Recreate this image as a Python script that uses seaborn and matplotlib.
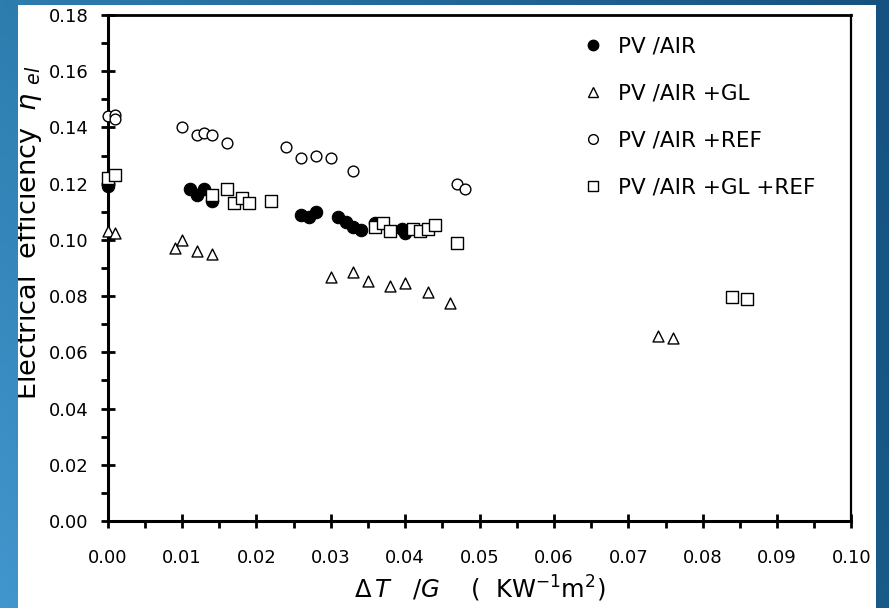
import numpy as np
import matplotlib
matplotlib.use("Agg")
import matplotlib.pyplot as plt
from matplotlib.lines import Line2D
from matplotlib.patches import Rectangle
from matplotlib.ticker import MultipleLocator, FormatStrFormatter
import seaborn as sns

# 数据
pv_air_x = [0.000, 0.011, 0.012, 0.013, 0.014, 0.026, 0.027, 0.028, 0.031, 0.032,
            0.033, 0.034, 0.036, 0.0396, 0.040]
pv_air_y = [0.119, 0.118, 0.116, 0.118, 0.114, 0.109, 0.108, 0.110, 0.108, 0.1065,
            0.1047, 0.1035, 0.106, 0.104, 0.1023]

gl_x = [0.000, 0.001, 0.009, 0.010, 0.012, 0.014, 0.030, 0.033, 0.035, 0.038,
        0.040, 0.043, 0.046, 0.074, 0.076]
gl_y = [0.103, 0.1025, 0.097, 0.100, 0.096, 0.095, 0.0867, 0.0887, 0.0855, 0.0837,
        0.0846, 0.0816, 0.0777, 0.0658, 0.065]

ref_x = [0.000, 0.001, 0.001, 0.010, 0.012, 0.013, 0.014, 0.016, 0.024, 0.026,
         0.028, 0.030, 0.033, 0.047, 0.048]
ref_y = [0.144, 0.1445, 0.143, 0.140, 0.1373, 0.138, 0.1372, 0.1344, 0.133, 0.129,
         0.130, 0.129, 0.1246, 0.120, 0.118]

glref_x = [0.000, 0.001, 0.014, 0.016, 0.017, 0.018, 0.019, 0.022, 0.036, 0.037,
           0.038, 0.041, 0.042, 0.043, 0.044, 0.047, 0.084, 0.086]
glref_y = [0.122, 0.123, 0.116, 0.118, 0.113, 0.115, 0.113, 0.114, 0.1047, 0.106,
           0.1032, 0.1038, 0.103, 0.104, 0.1053, 0.099, 0.0798, 0.0789]

labels = ['PV /AIR', 'PV /AIR +GL', 'PV /AIR +REF', 'PV /AIR +GL +REF']

sns.set_style('white')
plt.rcParams['font.family'] = ['DejaVu Sans']
plt.rcParams['mathtext.fontset'] = 'dejavusans'
plt.rcParams['text.color'] = 'black'
plt.rcParams['axes.labelcolor'] = 'black'
plt.rcParams['xtick.color'] = 'black'
plt.rcParams['ytick.color'] = 'black'

fig = plt.figure(figsize=(8.89, 6.08), dpi=100)

# 蓝色渐变背景
h, w = 60, 90
yy, xx = np.mgrid[0:1:h * 1j, 0:1:w * 1j]  # yy: 0 at top
tl = np.array([45, 125, 175]); tr = np.array([22, 82, 128])
bl = np.array([65, 150, 205]); br = np.array([25, 90, 135])
grad = ((1 - xx)[..., None] * ((1 - yy)[..., None] * tl + yy[..., None] * bl)
        + xx[..., None] * ((1 - yy)[..., None] * tr + yy[..., None] * br)) / 255

bg = fig.add_axes([0, 0, 1, 1], zorder=-10)
bg.imshow(grad, aspect='auto', extent=[0, 1, 0, 1], interpolation='bilinear')
bg.set_axis_off()
fig.patches.append(Rectangle((18 / 889, 0), (876 - 18) / 889, (608 - 5) / 608,
                             transform=fig.transFigure, facecolor='white',
                             edgecolor='none', zorder=-5))

ax = fig.add_axes([107.7 / 889, 87 / 608, (851.5 - 107.7) / 889, (521 - 15) / 608])
ax.set_facecolor('white')

sns.scatterplot(x=ref_x, y=ref_y, marker='o', s=60, facecolor='white',
                edgecolor='black', linewidth=1.0, ax=ax, zorder=3, clip_on=False)
sns.scatterplot(x=gl_x, y=gl_y, marker='^', s=62, facecolor='white',
                edgecolor='black', linewidth=1.0, ax=ax, zorder=3, clip_on=False)
sns.scatterplot(x=pv_air_x, y=pv_air_y, marker='o', s=80, facecolor='black',
                edgecolor='black', linewidth=0.8, ax=ax, zorder=4, clip_on=False)
sns.scatterplot(x=glref_x, y=glref_y, marker='s', s=66, facecolor='white',
                edgecolor='black', linewidth=1.0, ax=ax, zorder=5, clip_on=False)

ax.set_xlim(0, 0.10)
ax.set_ylim(0, 0.18)
ax.xaxis.set_major_locator(MultipleLocator(0.01))
ax.xaxis.set_minor_locator(MultipleLocator(0.005))
ax.yaxis.set_major_locator(MultipleLocator(0.02))
ax.yaxis.set_minor_locator(MultipleLocator(0.01))
ax.xaxis.set_major_formatter(FormatStrFormatter('%.2f'))
ax.yaxis.set_major_formatter(FormatStrFormatter('%.2f'))

for sp in ax.spines.values():
    sp.set_visible(True)
    sp.set_color('black')
ax.spines['left'].set_linewidth(2.2)
ax.spines['bottom'].set_linewidth(2.2)
ax.spines['top'].set_linewidth(2.0)
ax.spines['right'].set_linewidth(1.6)

ax.tick_params(which='major', direction='inout', length=10, width=2, colors='black',
               labelsize=13, bottom=True, left=True, top=False, right=False)
ax.tick_params(which='minor', direction='out', length=5, width=2,
               bottom=True, left=True, top=False, right=False)
ax.tick_params(axis='x', which='major', pad=15)
ax.tick_params(axis='y', which='major', pad=9)

# 坐标轴标题
fig.text(480 / 889, 1 - 589 / 608, r'$\Delta\, T$   /$G$    (  KW$^{-1}$m$^{2}$)',
         fontsize=17.5, ha='center', va='center')
fig.text(29 / 889, 1 - 233 / 608, r'Electrical  efficiency  $\eta$ $_{el}$',
         fontsize=19.5, rotation=90, ha='center', va='center')

# 左侧蓝色边框压住标题
edge = fig.add_axes([0, 0, 18 / 889, 1], zorder=10)
edge.imshow(grad[:, :2], aspect='auto', extent=[0, 1, 0, 1], interpolation='bilinear')
edge.set_axis_off()

handles = [
    Line2D([], [], marker='o', linestyle='none', markersize=7.5, markerfacecolor='black',
           markeredgecolor='black'),
    Line2D([], [], marker='^', linestyle='none', markersize=7, markerfacecolor='white',
           markeredgecolor='black', markeredgewidth=1),
    Line2D([], [], marker='o', linestyle='none', markersize=7, markerfacecolor='white',
           markeredgecolor='black', markeredgewidth=1),
    Line2D([], [], marker='s', linestyle='none', markersize=7, markerfacecolor='white',
           markeredgecolor='black', markeredgewidth=1),
]
ax.legend(handles, labels, loc='upper left', bbox_to_anchor=(584 / 889, 1 - 37 / 608),
          bbox_transform=fig.transFigure, frameon=False, fontsize=15.5,
          handlelength=0.8, handletextpad=0.8, labelspacing=1.25, borderpad=0,
          borderaxespad=0)

fig.savefig('out.png', dpi=100)
